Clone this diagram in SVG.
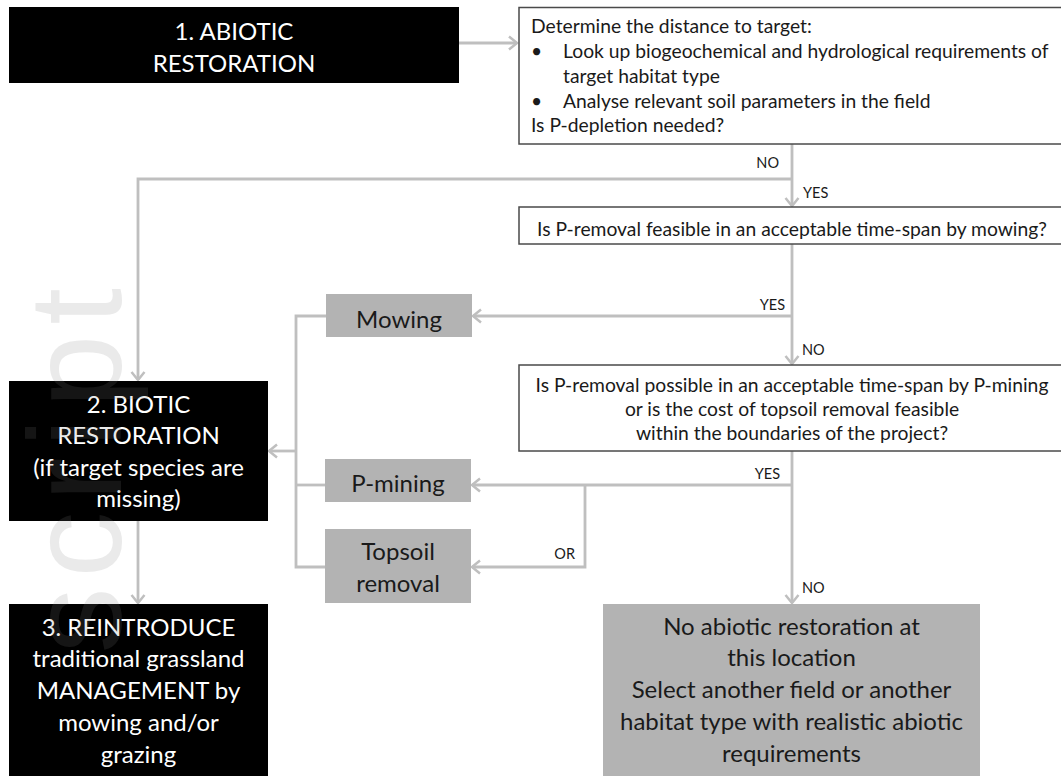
<svg xmlns="http://www.w3.org/2000/svg" width="1061" height="776" viewBox="0 0 1061 776">
<defs>
<style>
.big{font-family:Lato,"Liberation Sans",sans-serif;font-size:24px;text-anchor:middle}
.wt{fill:#ffffff}
.bk{fill:#1a1a1a}
.q{font-family:Lato,"Liberation Sans",sans-serif;font-size:19.3px;fill:#1a1a1a}
.lab{font-family:Lato,"Liberation Sans",sans-serif;font-size:14.5px;fill:#1a1a1a}
.blk{fill:#000000}
.gry{fill:#b3b3b3}
.qbox{fill:#ffffff;stroke:#4a4a4a;stroke-width:1.5}
.con{fill:none;stroke:#bfbfbf;stroke-width:2.8}
.wm{font-family:"Liberation Sans",sans-serif;font-size:132px;letter-spacing:10px;fill:#808080;opacity:0.16}
</style>
<marker id="ah" viewBox="-11 -8 13 16" refX="0" refY="0" markerWidth="13" markerHeight="16" markerUnits="userSpaceOnUse" orient="auto">
<path d="M-8,-6.5 L0,0 L-8,6.5" fill="none" stroke="#bfbfbf" stroke-width="2.5"/>
</marker>
</defs>
<rect width="1061" height="776" fill="#ffffff"/>

<g id="connectors">
<path class="con" d="M459,43 H517" marker-end="url(#ah)"/>
<path class="con" d="M792,144 V206" marker-end="url(#ah)"/>
<path class="con" d="M792,179 H138 V380" marker-end="url(#ah)"/>
<path class="con" d="M792,244 V364" marker-end="url(#ah)"/>
<path class="con" d="M792,316 H473" marker-end="url(#ah)"/>
<path class="con" d="M792,451 V603" marker-end="url(#ah)"/>
<path class="con" d="M792,485 H472" marker-end="url(#ah)"/>
<path class="con" d="M585,485 V567 H472" marker-end="url(#ah)"/>
<path class="con" d="M326,316 H296 V567 H325"/>
<path class="con" d="M296,485 H325"/>
<path class="con" d="M296,451 H269" marker-end="url(#ah)"/>
<path class="con" d="M138,521 V603" marker-end="url(#ah)"/>
<text class="lab" x="779" y="168" text-anchor="end">NO</text>
<text class="lab" x="803" y="198">YES</text>
<text class="lab" x="785" y="310" text-anchor="end">YES</text>
<text class="lab" x="802" y="355">NO</text>
<text class="lab" x="780" y="479" text-anchor="end">YES</text>
<text class="lab" x="575" y="559" text-anchor="end">OR</text>
<text class="lab" x="802" y="593">NO</text>
</g>

<g id="abiotic">
<rect class="blk" x="9" y="7" width="450" height="76"/>
<text class="big wt" x="234" y="40">1. ABIOTIC</text>
<text class="big wt" x="234" y="72">RESTORATION</text>
</g>

<g id="determine">
<rect class="qbox" x="519" y="7.5" width="560" height="136.5"/>
<text class="q" x="531" y="33">Determine the distance to target:</text>
<text class="q" x="531" y="58">•</text>
<text class="q" x="563" y="58">Look up biogeochemical and hydrological requirements of</text>
<text class="q" x="563" y="83">target habitat type</text>
<text class="q" x="531" y="108">•</text>
<text class="q" x="563" y="108">Analyse relevant soil parameters in the field</text>
<text class="q" x="531" y="132">Is P-depletion needed?</text>
</g>

<g id="q-mowing">
<rect class="qbox" x="519" y="207" width="560" height="37"/>
<text class="q" x="792" y="236" text-anchor="middle">Is P-removal feasible in an acceptable time-span by mowing?</text>
</g>

<g id="q-mining">
<rect class="qbox" x="519" y="365" width="560" height="86"/>
<text class="q" x="792" y="392" text-anchor="middle">Is P-removal possible in an acceptable time-span by P-mining</text>
<text class="q" x="792" y="416" text-anchor="middle">or is the cost of topsoil removal feasible</text>
<text class="q" x="792" y="440" text-anchor="middle">within the boundaries of the project?</text>
</g>

<g id="mowing">
<rect class="gry" x="326" y="294" width="146" height="43"/>
<text class="big bk" x="399" y="328">Mowing</text>
</g>

<g id="p-mining">
<rect class="gry" x="325" y="459" width="146" height="43"/>
<text class="big bk" x="398" y="492">P-mining</text>
</g>

<g id="topsoil">
<rect class="gry" x="325" y="529" width="146" height="74"/>
<text class="big bk" x="398" y="560">Topsoil</text>
<text class="big bk" x="398" y="592">removal</text>
</g>

<g id="biotic">
<rect class="blk" x="9" y="381" width="259" height="140"/>
<text class="big wt" x="138.5" y="413">2. BIOTIC</text>
<text class="big wt" x="138.5" y="444">RESTORATION</text>
<text class="big wt" x="138.5" y="476">(if target species are</text>
<text class="big wt" x="138.5" y="507">missing)</text>
</g>

<g id="reintroduce">
<rect class="blk" x="9" y="604" width="259" height="172"/>
<text class="big wt" x="138.5" y="636">3. REINTRODUCE</text>
<text class="big wt" x="138.5" y="667">traditional grassland</text>
<text class="big wt" x="138.5" y="699">MANAGEMENT by</text>
<text class="big wt" x="138.5" y="731">mowing and/or</text>
<text class="big wt" x="138.5" y="763">grazing</text>
</g>

<g id="no-restoration">
<rect class="gry" x="603" y="604" width="377" height="172"/>
<text class="big bk" x="791.5" y="635">No abiotic restoration at</text>
<text class="big bk" x="791.5" y="666">this location</text>
<text class="big bk" x="791.5" y="698">Select another field or another</text>
<text class="big bk" x="791.5" y="730">habitat type with realistic abiotic</text>
<text class="big bk" x="791.5" y="762">requirements</text>
</g>

<text class="wm" transform="translate(121,278) rotate(-90)" text-anchor="end">script</text>
</svg>
